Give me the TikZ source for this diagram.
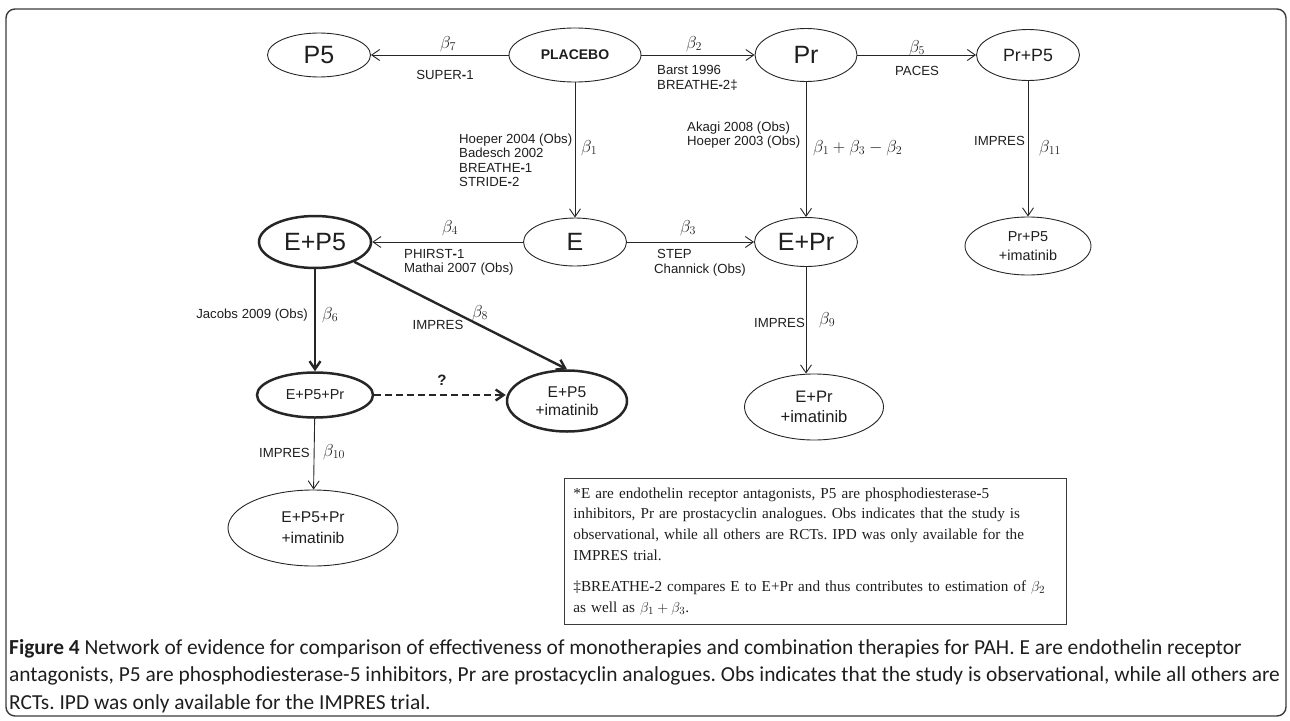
\documentclass[tikz,border=0pt]{standalone}
\usepackage{fontspec}
\setmainfont{Liberation Sans}
\newfontfamily\notefont{Liberation Serif}
\newfontfamily\capfont{Carlito}
\usetikzlibrary{shapes.geometric, arrows.meta, positioning}

\definecolor{lineGray}{HTML}{262626}
\definecolor{frameGray}{HTML}{3A3A3A}
\definecolor{textBlack}{HTML}{1E1E1E}

\newcommand{\hy}{\textbf{-}}

\tikzset{
    tnode/.style={ellipse, draw=lineGray, line width=0.9pt, inner sep=0pt, align=center, text=textBlack},
    tbold/.style={tnode, line width=2.5pt},
    link/.style={draw=lineGray, line width=0.9pt, -{Straight Barb[length=8pt,width=11pt]}},
    linkbold/.style={link, line width=2.4pt},
    study/.style={font=\fontsize{13.2}{14.5}\selectfont, text=textBlack, inner sep=0pt, align=left},
    coef/.style={font=\fontsize{17.28}{17.28}\selectfont, text=textBlack, inner sep=0pt}
}

\begin{document}
\frenchspacing
\begin{tikzpicture}[x=1pt, y=-1pt]
    \useasboundingbox (0,0) rectangle (1290,720);
    % outer frame
    \draw[frameGray, line width=1.4pt, rounded corners=9pt] (6,9) rectangle (1286,716);

    % Top row
    \node[tnode, minimum width=103pt, minimum height=44pt, font=\fontsize{25}{25}\selectfont] (p5) at (319,55) {P5};
    \node[tnode, minimum width=132pt, minimum height=54pt, font=\fontsize{14}{14}\selectfont\bfseries] (placebo) at (575,55) {PLACEBO};
    \node[tnode, minimum width=102pt, minimum height=53pt, font=\fontsize{25}{25}\selectfont] (pr) at (806,55) {Pr};
    \node[tnode, minimum width=103pt, minimum height=51pt, font=\fontsize{17.8}{18}\selectfont] (prp5) at (1028,55) {Pr+P5};

    % Middle row
    \node[tbold, minimum width=112pt, minimum height=52pt, font=\fontsize{25}{25}\selectfont] (ep5) at (315,242) {E+P5};
    \node[tnode, minimum width=103pt, minimum height=48pt, font=\fontsize{25}{25}\selectfont] (e) at (575,242) {E};
    \node[tnode, minimum width=103pt, minimum height=49pt, font=\fontsize{25}{25}\selectfont] (epr) at (806,242) {E+Pr};
    \node[tnode, minimum width=126pt, minimum height=58pt, font=\fontsize{14.4}{19}\selectfont] (prp5im) at (1028,246) {Pr+P5\\+imatinib};

    % Lower rows
    \node[tbold, minimum width=116pt, minimum height=45pt, font=\fontsize{14.4}{15}\selectfont] (ep5pr) at (315,395) {E+P5+Pr};
    \node[tbold, minimum width=120pt, minimum height=61pt, font=\fontsize{15.6}{18}\selectfont] (ep5im) at (567,401) {E+P5\\+imatinib};
    \node[tnode, minimum width=139pt, minimum height=66pt, font=\fontsize{16.6}{20}\selectfont] (eprim) at (814,407) {E+Pr\\+imatinib};
    \node[tnode, minimum width=170pt, minimum height=76pt, font=\fontsize{15.6}{21}\selectfont] (ep5prim) at (313,528) {E+P5+Pr\\+imatinib};

    % Comparisons
    \draw[link] (placebo) -- (p5);
    \draw[link] (placebo) -- (pr);
    \draw[link] (pr) -- (prp5);
    \draw[link] (placebo) -- (e);
    \draw[link] (pr) -- (epr);
    \draw[link] (prp5) -- (prp5im);
    \draw[link] (e) -- (ep5);
    \draw[link] (e) -- (epr);
    \draw[linkbold] (ep5) -- (ep5pr);
    \draw[linkbold] (ep5) -- (ep5im.north);
    \draw[linkbold, dash pattern=on 7pt off 4pt] (ep5pr) -- (ep5pr -| ep5im.west);
    \draw[link] (ep5pr) -- (ep5prim);
    \draw[link] (epr.south) -- (epr.south |- eprim.north);

    % Coefficients and studies
    \node[coef] (b7) at (448,44) {$\beta_7$};
    \node[study] (super) at (445,75) {SUPER\hy1};
    \node[coef] (b2) at (694,44) {$\beta_2$};
    \node[study, anchor=west] (barst) at (657,78) {Barst 1996\\BREATHE\hy2‡};
    \node[coef] (b5) at (917,48) {$\beta_5$};
    \node[study] (paces) at (917,71) {PACES};

    \node[study, anchor=west] (hoeper) at (459,160.5) {Hoeper 2004 (Obs)\\Badesch 2002\\BREATHE\hy1\\STRIDE\hy2};
    \node[coef, anchor=west] (b1) at (581,148) {$\beta_1$};
    \node[study, anchor=west] (akagi) at (687,135) {Akagi 2008 (Obs)\\Hoeper 2003 (Obs)};
    \node[coef, anchor=west] (b132) at (813,148) {$\beta_1+\beta_3-\beta_2$};
    \node[study, anchor=east] (impres11) at (1025,141) {IMPRES};
    \node[coef, anchor=west] (b11) at (1039,148) {$\beta_{11}$};

    \node[coef] (b4) at (450,228) {$\beta_4$};
    \node[study, anchor=west] (phirst) at (404,262.5) {PHIRST\hy1\\Mathai 2007 (Obs)};
    \node[coef] (b3) at (688,228) {$\beta_3$};
    \node[study, anchor=west] (step) at (654,263) {\hspace{3pt}STEP\\Channick (Obs)};

    \node[study, anchor=east] (jacobs) at (308,315) {Jacobs 2009 (Obs)};
    \node[coef, anchor=west] (b6) at (322,315) {$\beta_6$};
    \node[coef] (b8) at (480,313) {$\beta_8$};
    \node[study] (impres8) at (438,325) {IMPRES};
    \node[font=\fontsize{15}{15}\selectfont\bfseries, text=textBlack, inner sep=0pt] (query) at (442,380) {?};
    \node[study, anchor=east] (impres10) at (310,453) {IMPRES};
    \node[coef, anchor=west] (b10) at (323,452) {$\beta_{10}$};
    \node[study, anchor=east] (impres9) at (805,323) {IMPRES};
    \node[coef, anchor=west] (b9) at (819,320) {$\beta_9$};

    % Footnote box
    \node[draw=frameGray, line width=0.9pt, anchor=north west, text width=484pt, inner sep=9pt,
          font=\notefont\fontsize{15.2}{20.7}\selectfont, text=textBlack, align=left] (note) at (564,478)
        {*E are endothelin receptor antagonists, P5 are phosphodiesterase\hy5\\
         inhibitors, Pr are prostacyclin analogues. Obs indicates that the study is\\
         observational, while all others are RCTs. IPD was only available for the\\
         IMPRES trial.\\[11pt]
         ‡BREATHE\hy2 compares E to E+Pr and thus contributes to estimation of $\beta_2$\\
         as well as $\beta_1+\beta_3$.};

    % Caption
    \node[anchor=north west, inner sep=0pt, align=left, text=textBlack,
          font=\capfont\fontsize{21.4}{27.5}\selectfont] (caption) at (9,639)
        {\textbf{Figure 4} Network of evidence for comparison of effectiveness of monotherapies and combination therapies for PAH. E are endothelin receptor\\
         antagonists, P5 are phosphodiesterase-5 inhibitors, Pr are prostacyclin analogues. Obs indicates that the study is observational, while all others are\\
         RCTs. IPD was only available for the IMPRES trial.};
\end{tikzpicture}
\end{document}
